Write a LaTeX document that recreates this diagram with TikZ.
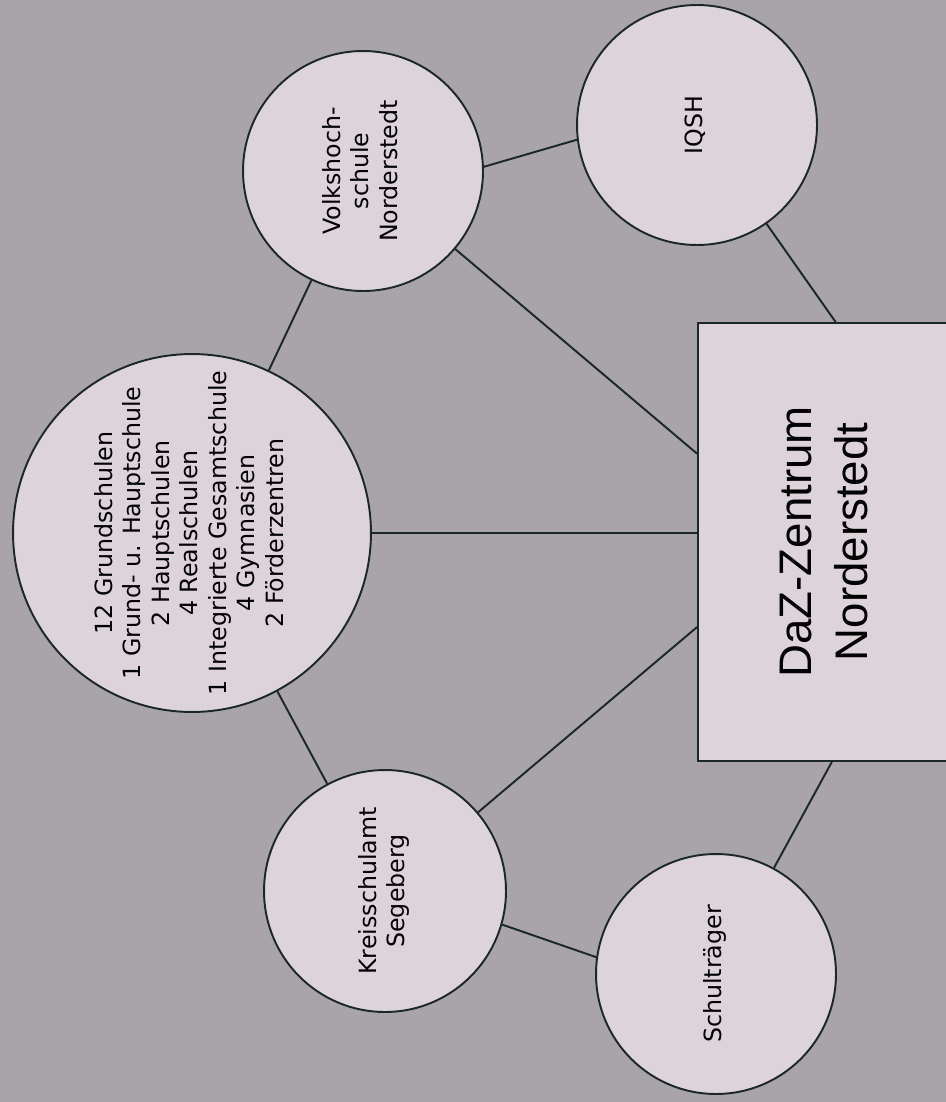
\documentclass[tikz,border=0pt]{standalone}
\usepackage{fontspec}
\usepackage{graphicx}
\setmainfont{DejaVu Sans}
\newfontfamily\dazfont{Liberation Sans}

\definecolor{paper}{HTML}{A9A3AA}
\definecolor{disc}{HTML}{DDD4DB}
\definecolor{ink}{HTML}{1C2828}

% text turned to read from bottom to top
\newcommand{\kipp}[1]{\rotatebox{90}{\begin{tabular}{@{}c@{}}#1\end{tabular}}}

\begin{document}
\begin{tikzpicture}[x=0.02cm,y=-0.02cm,
	partner/.style={circle,draw=ink,fill=disc,line width=1.1pt,inner sep=-1cm,
		minimum size=4.8cm,font=\fontsize{13.5}{16.2}\selectfont},
	zentrum/.style={rectangle,draw=ink,fill=disc,line width=1.1pt,inner sep=0pt,
		minimum width=5.2cm,minimum height=8.76cm,font=\dazfont\fontsize{26}{32}\selectfont},
	link/.style={draw=ink,line width=1.1pt}]
	
	% page, in pixels of the scan
	\useasboundingbox (0,0) rectangle (946,1102);
	\fill[paper] (0,0) rectangle (946,1102);
	
	% Partner circles
	\node[partner] (vhs) at (363,171) {\kipp{Volkshoch-\\schule\\Norderstedt}};
	\node[partner] (iqsh) at (697,125) {\kipp{IQSH}};
	\node[partner,minimum size=7.16cm] (schulen) at (192,533) {\kipp{12 Grundschulen\\1 Grund- u. Hauptschule\\2 Hauptschulen\\4 Realschulen\\1 Integrierte Gesamtschule\\4 Gymnasien\\2 Förderzentren}};
	\node[partner,minimum size=4.84cm] (kreis) at (385,891) {\kipp{Kreisschulamt\\Segeberg}};
	\node[partner] (traeger) at (716,974) {\kipp{Schulträger}};
	
	% Centre box
	\node[zentrum] (daz) at (828,542) {\kipp{DaZ-Zentrum\\Norderstedt}};
	
	\draw[link] (vhs.2) -- (iqsh.187);
	\draw[link] (vhs) -- (schulen);
	\draw[link] (vhs) -- (daz.146.8);
	\draw[link] (iqsh) -- (daz.88.7);
	\draw[link] (schulen) -- (schulen -| daz.west);
	\draw[link] (schulen) -- (kreis);
	\draw[link] (kreis) -- (daz.213.2);
	\draw[link] (kreis.-16.4) -- (traeger.172.4);
	\draw[link] (traeger) -- (daz.271.6);
	
\end{tikzpicture}
\end{document}
